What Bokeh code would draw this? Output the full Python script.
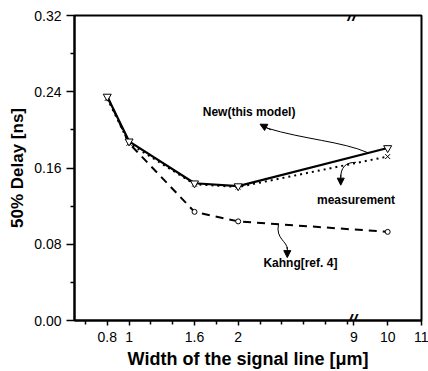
from bokeh.plotting import figure
from bokeh.models import FixedTicker, Label, Arrow, NormalHead, Title
from bokeh.embed import file_html
from bokeh.resources import INLINE

# ---- data ----
width_um = [0.8, 1, 1.6, 2, 10]
new_model = [0.235, 0.188, 0.144, 0.141, 0.181]
measurement = [0.233, 0.186, 0.143, 0.140, 0.172]
kahng = [0.235, 0.186, 0.114, 0.104, 0.093]

x_tick_values = [0.8, 1, 1.6, 2, 9, 10, 11]
x_tick_labels = ["0.8", "1", "1.6", "2", "9", "10", "11"]
x_minor_values = [0.6, 1.2, 1.4, 1.8, 2.2, 2.4, 2.6, 2.8, 3.0]
y_tick_values = [0.00, 0.08, 0.16, 0.24, 0.32]
y_tick_labels = ["0.00", "0.08", "0.16", "0.24", "0.32"]
y_minor_values = [0.04, 0.12, 0.20, 0.28]

# broken x axis: 0.5..3 linear, then 9..11 compressed
BREAK_U = 3.06
RIGHT_SCALE = 0.31


def tx(x):
    return x if x <= 3 else BREAK_U + (x - 9) * RIGHT_SCALE


xu = [tx(v) for v in width_um]
FONT = "Liberation Sans"

p = figure(width=428, height=371, x_range=(0.5, tx(11)), y_range=(0, 0.32),
           output_backend="svg", toolbar_location=None,
           min_border_left=71, min_border_right=7, min_border_top=15, min_border_bottom=51)
p.grid.visible = False
p.outline_line_color = "black"
p.outline_line_width = 2
p.background_fill_color = "white"
p.border_fill_color = "white"

# x axis
xa = p.xaxis[0]
xa.ticker = FixedTicker(ticks=[tx(v) for v in x_tick_values],
                        minor_ticks=[tx(v) for v in x_minor_values])
xa.major_label_overrides = {tx(v): lab for v, lab in zip(x_tick_values, x_tick_labels)}
xa.axis_line_width = 2
xa.major_tick_out = 5
xa.major_tick_in = 0
xa.minor_tick_out = 4
xa.minor_tick_in = 0
xa.major_tick_line_width = 1.5
xa.minor_tick_line_width = 1.5
xa.major_label_standoff = 6
xa.major_label_text_font = FONT
xa.major_label_text_font_size = "14px"
xa.major_label_text_color = "black"
xa.axis_label = "Width of the signal line [\u03bcm]"
xa.axis_label_text_font = FONT
xa.axis_label_text_font_size = "18px"
xa.axis_label_text_font_style = "bold"
xa.axis_label_text_color = "black"
xa.axis_label_standoff = 4

# y axis
ya = p.yaxis[0]
ya.ticker = FixedTicker(ticks=y_tick_values, minor_ticks=y_minor_values)
ya.major_label_overrides = {v: lab for v, lab in zip(y_tick_values, y_tick_labels)}
ya.axis_line_width = 2
ya.major_tick_out = 8
ya.major_tick_in = 0
ya.minor_tick_out = 4
ya.minor_tick_in = 0
ya.major_tick_line_width = 1.5
ya.minor_tick_line_width = 1.5
ya.major_label_standoff = 5
ya.major_label_text_font = FONT
ya.major_label_text_font_size = "14px"
ya.major_label_text_color = "black"

# y axis title as a left-side title, shifted up like the reference
p.add_layout(Title(text="50% Delay [ns]", align="center", offset=16,
                   text_font=FONT, text_font_size="17px", text_font_style="bold",
                   text_color="black"), "left")

# series
p.line(xu, kahng, line_color="black", line_width=2, line_dash="8 6")
p.scatter(xu[2:], kahng[2:], marker="circle", size=5, fill_color="white",
          line_color="black", line_width=1)
p.line(xu, measurement, line_color="black", line_width=2, line_dash="2 4")
p.scatter(xu, measurement, marker="x", size=7, line_color="black", line_width=1)
p.line(xu, new_model, line_color="black", line_width=2.2)
p.scatter(xu, new_model, marker="inverted_triangle", size=8, fill_color="white",
          line_color="black", line_width=1)

# annotation arrows
p.bezier(x0=[3.19], y0=[0.176], x1=[2.26], y1=[0.202],
         cx0=[2.95], cy0=[0.188], cx1=[2.6], cy1=[0.19],
         line_color="black", line_width=1)
p.add_layout(Arrow(end=NormalHead(size=7, fill_color="black", line_color="black"),
                   x_start=2.3, y_start=0.200, x_end=2.2, y_end=0.206,
                   line_color="black", line_width=1))
p.bezier(x0=[3.08], y0=[0.166], x1=[2.94], y1=[0.150],
         cx0=[2.98], cy0=[0.166], cx1=[2.94], cy1=[0.16],
         line_color="black", line_width=1)
p.add_layout(Arrow(end=NormalHead(size=7, fill_color="black", line_color="black"),
                   x_start=2.94, y_start=0.153, x_end=2.94, y_end=0.142,
                   line_color="black", line_width=1))
p.bezier(x0=[2.37], y0=[0.101], x1=[2.45], y1=[0.075],
         cx0=[2.34], cy0=[0.086], cx1=[2.45], cy1=[0.083],
         line_color="black", line_width=1)
p.add_layout(Arrow(end=NormalHead(size=7, fill_color="black", line_color="black"),
                   x_start=2.45, y_start=0.077, x_end=2.45, y_end=0.066,
                   line_color="black", line_width=1))

# annotation texts
for txt, x, y in [("New(this model)", 2.1, 0.219),
                  ("measurement", 3.08, 0.126),
                  ("Kahng[ref. 4]", 2.57, 0.060)]:
    p.add_layout(Label(x=x, y=y, text=txt, text_font=FONT, text_font_size="12px",
                       text_font_style="bold", text_align="center",
                       text_baseline="middle", text_color="black"))

# axis break marks
for yb in (0.32, 0.0):
    p.add_layout(Label(x=3.045, y=yb, text="//", text_font=FONT, text_font_size="17px",
                       text_font_style="bold italic", text_align="center",
                       text_baseline="middle", text_color="black"))

open("out.html", "w").write(file_html(p, INLINE))
